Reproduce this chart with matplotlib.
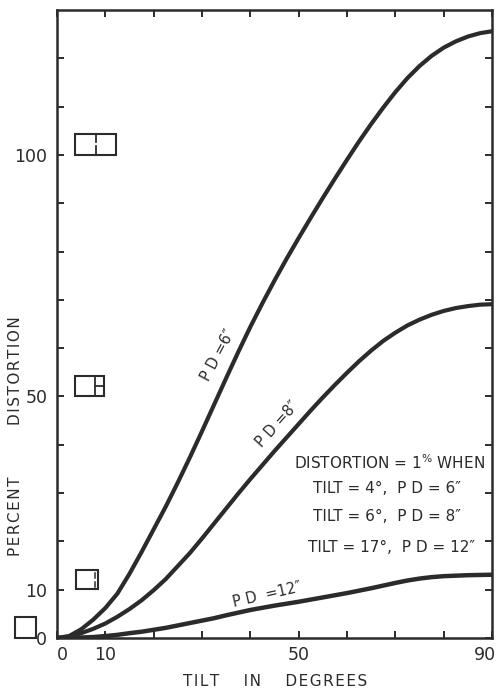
import matplotlib
matplotlib.use("Agg")
from matplotlib import pyplot
from matplotlib.patches import Rectangle
from matplotlib.transforms import ScaledTranslation

# tilt in degrees (шаг 2.5)
tilt = [0, 2.5, 5, 7.5, 10, 12.5, 15, 17.5, 20, 22.5, 25, 27.5, 30, 32.5, 35, 37.5, 40, 42.5,
        45, 47.5, 50, 52.5, 55, 57.5, 60, 62.5, 65, 67.5, 70, 72.5, 75, 77.5, 80, 82.5, 85, 87.5, 90]

# percent distortion
pd6 = [0, 0.4, 1.8, 3.8, 6.2, 9.2, 13.3, 17.8, 22.5, 27.2, 32.2, 37.4, 42.8, 48.3, 53.8, 59.2,
       64.4, 69.3, 74.0, 78.5, 82.8, 87.0, 91.1, 95.1, 99.0, 102.8, 106.4, 109.8, 113.0, 115.9,
       118.4, 120.5, 122.2, 123.5, 124.5, 125.2, 125.6]
pd8 = [0, 0.3, 1.0, 1.9, 3.0, 4.4, 6.0, 7.8, 9.9, 12.2, 14.9, 17.6, 20.6, 23.7, 26.8, 29.9,
       32.9, 35.8, 38.7, 41.5, 44.3, 47.1, 49.8, 52.4, 54.9, 57.3, 59.5, 61.5, 63.2, 64.7,
       65.9, 66.9, 67.7, 68.3, 68.7, 69.0, 69.1]
pd12 = [0, 0.05, 0.1, 0.2, 0.4, 0.65, 1.0, 1.3, 1.7, 2.1, 2.6, 3.1, 3.6, 4.1, 4.7, 5.25,
        5.8, 6.25, 6.7, 7.1, 7.5, 7.95, 8.4, 8.85, 9.3, 9.8, 10.3, 10.85, 11.4, 11.9,
        12.3, 12.6, 12.8, 12.9, 13.0, 13.05, 13.1]

x_ticks = [0, 10, 20, 30, 40, 50, 60, 70, 80, 90]
x_tick_labels = ["0", "10", "", "", "", "50", "", "", "", "90"]
y_ticks = [0, 10, 20, 30, 40, 50, 60, 70, 80, 90, 100, 110, 120]
y_tick_labels = ["0", "10", "", "", "", "50", "", "", "", "", "100", "", ""]

ink = "#2b2b2b"
pyplot.rcParams["font.family"] = ["DejaVu Sans"]


def spaced(s):
    # разрядка букв тонким пробелом
    return "\u200a".join(s)


fig = pyplot.figure(figsize=(4.96, 6.89), dpi=100)
ax = fig.add_axes([57 / 496, 51 / 689, 435 / 496, 628 / 689])

ax.axis([0, 90, 0, 130])

#кривые
ax.plot(tilt, pd6, c=ink, linewidth=3, solid_capstyle="round")
ax.plot(tilt, pd8, c=ink, linewidth=3, solid_capstyle="round")
ax.plot(tilt, pd12, c=ink, linewidth=3.2, solid_capstyle="round")

#деления
ax.set_xticks(x_ticks)
ax.set_xticklabels(x_tick_labels)
ax.set_yticks(y_ticks)
ax.set_yticklabels(y_tick_labels)
ax.tick_params(axis="both", direction="in", length=5, width=1.4, color=ink,
               labelsize=12.5, labelcolor=ink, top=True, right=True)
ax.tick_params(axis="x", pad=6)
ax.tick_params(axis="y", pad=7)
for s in ax.spines.values():
    s.set_linewidth(1.8)
    s.set_color(ink)

# подписи 0 и 90 чуть сдвинуты, как в оригинале
xl = ax.get_xticklabels()
xl[-1].set_transform(xl[-1].get_transform() + ScaledTranslation(-5 / 72, 0, fig.dpi_scale_trans))
xl[0].set_transform(xl[0].get_transform() + ScaledTranslation(4 / 72, 0, fig.dpi_scale_trans))

#подписи кривых
ax.text(33.3, 58.5, "P D =6\u2033", rotation=62, fontsize=10.5, color=ink, ha="center", va="center")
ax.text(45.6, 44.3, "P D =8\u2033", rotation=48, fontsize=10.5, color=ink, ha="center", va="center")
ax.text(43.5, 9.0, "P D  =12\u2033", rotation=13, fontsize=10.5, color=ink, ha="center", va="center")

#текстовый блок
ax.text(68.8, 36.4, "DISTORTION = 1$^{\\%}$ WHEN", fontsize=11, color=ink, ha="center", va="center")
ax.text(68.3, 31.0, "TILT = 4\u00b0,  P D = 6\u2033", fontsize=11, color=ink, ha="center", va="center")
ax.text(68.3, 25.2, "TILT = 6\u00b0,  P D = 8\u2033", fontsize=11, color=ink, ha="center", va="center")
ax.text(69.3, 18.8, "TILT = 17\u00b0,  P D = 12\u2033", fontsize=11, color=ink, ha="center", va="center")

#прямоугольники-пиктограммы
ax.add_patch(Rectangle((3.7, 100), 8.5, 4.4, fill=False, ec=ink, lw=1.5))
ax.plot([8.1, 8.1], [100, 101.8], c=ink, lw=1.3)
ax.plot([8.1, 8.1], [102.6, 104.4], c=ink, lw=1.3)
ax.add_patch(Rectangle((3.7, 50), 6.0, 4.2, fill=False, ec=ink, lw=1.5))
ax.plot([7.9, 7.9], [50, 54.2], c=ink, lw=1.3)
ax.plot([7.9, 9.7], [52.1, 52.1], c=ink, lw=1.3)
ax.add_patch(Rectangle((3.9, 10.1), 4.6, 3.9, fill=False, ec=ink, lw=1.5))
ax.plot([7.9, 7.9], [10.6, 11.6], c=ink, lw=1.1)
ax.plot([7.9, 7.9], [12.4, 13.4], c=ink, lw=1.1)
ax.add_patch(Rectangle((-8.7, 0), 4.4, 4.3, fill=False, ec=ink, lw=1.5, clip_on=False))

#подписи осей
fig.text(275 / 496, 1 - 682 / 689, spaced("TILT") + "     " + spaced("IN") + "     " + spaced("DEGREES"),
         fontsize=11, color=ink, ha="center", va="center")
fig.text(16 / 496, 1 - 371 / 689, spaced("DISTORTION"), fontsize=11, color=ink,
         rotation=90, ha="center", va="center")
fig.text(16 / 496, 1 - 516 / 689, spaced("PERCENT"), fontsize=11, color=ink,
         rotation=90, ha="center", va="center")

fig.savefig("out.png", dpi=100)
